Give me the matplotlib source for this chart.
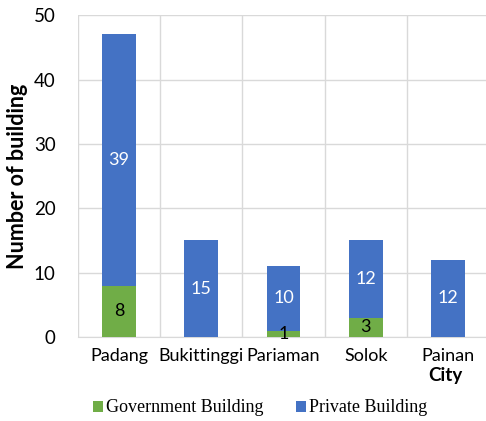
import matplotlib
matplotlib.use("Agg")
import matplotlib.pyplot as plt
import numpy as np

cities = ["Padang", "Bukittinggi", "Pariaman", "Solok", "Painan"]
government = [8, 0, 1, 3, 0]
private = [39, 15, 10, 12, 12]

fig = plt.figure(figsize=(4.86, 4.21), dpi=100)
ax = fig.add_axes([0.16, 0.1995, 0.847, 0.7645])

x = np.arange(len(cities))
w = 0.41
green = "#70AD47"
blue = "#4472C4"
b1 = ax.bar(x, government, w, color=green, label="Government Building", zorder=3)
b2 = ax.bar(x, private, w, bottom=government, color=blue, label="Private Building", zorder=3)

lab_font = "Lato"
for i in range(len(cities)):
    if government[i] > 0:
        ax.text(x[i], government[i] / 2, str(government[i]), ha="center", va="center",
                color="black", fontsize=13, family=lab_font, zorder=4)
    if private[i] > 0:
        ax.text(x[i], government[i] + private[i] / 2, str(private[i]), ha="center", va="center",
                color="white", fontsize=13, family=lab_font, zorder=4)

ax.set_xlim(-0.5, len(cities) - 0.5)
ax.set_ylim(0, 50)
ax.set_yticks([0, 10, 20, 30, 40, 50])
ax.set_xticks(x)
ax.set_xticklabels(cities, family=lab_font, fontsize=13)
ax.set_xticks(np.arange(-0.5, len(cities), 1.0), minor=True)
for lab in ax.get_yticklabels():
    lab.set_family(lab_font)
    lab.set_fontsize(13.5)
ax.tick_params(axis="both", length=0, which="both")
ax.tick_params(axis="x", pad=8)
ax.tick_params(axis="y", pad=16)
ax.grid(axis="y", which="major", color="#D9D9D9", linewidth=1, zorder=0)
ax.grid(axis="x", which="minor", color="#D9D9D9", linewidth=1, zorder=0)
for s in ["top", "right", "left"]:
    ax.spines[s].set_visible(False)
ax.spines["bottom"].set_color("#D9D9D9")

ax.set_ylabel("Number of building", family=lab_font, fontsize=15.5, fontweight="bold", labelpad=4)
fig.text(0.952, 0.108, "City", family=lab_font, fontsize=13.5, fontweight="bold", ha="right", va="center")

fig.legend(handles=[b1, b2], loc="center", bbox_to_anchor=(0.535, 0.031), ncol=2, frameon=False,
           prop={"family": "Liberation Serif", "size": 13}, handlelength=0.55, handleheight=0.55,
           handletextpad=0.15, columnspacing=1.8)

fig.savefig("out.png", dpi=100)
